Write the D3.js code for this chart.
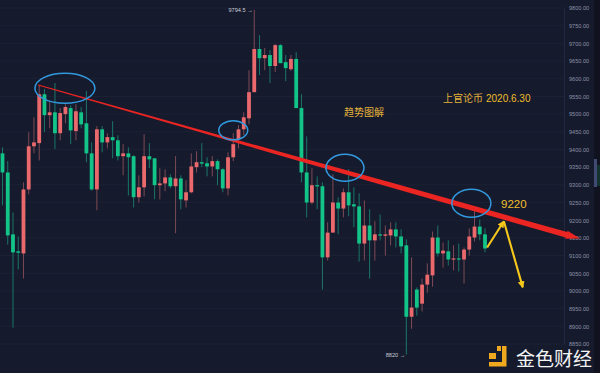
<!DOCTYPE html>
<html><head><meta charset="utf-8">
<script src="https://cdn.jsdelivr.net/npm/d3@7/dist/d3.min.js"></script>
<style>html,body{margin:0;padding:0;background:#161a2d;overflow:hidden}svg{display:block}</style>
</head><body><svg id="c" width="600" height="373"></svg>
<script>
const opens=[9389,9335,9160,9112,9106,9287,9409,9418,9556,9497,9505,9446,9500,9517,9452,9505,9474,9389,9287,9457,9420,9435,9426,9381,9389,9381,9265,9293,9381,9375,9299,9304,9321,9296,9318,9256,9279,9350,9364,9361,9352,9367,9344,9290,9378,9429,9457,9488,9562,9684,9658,9667,9636,9695,9647,9627,9656,9517,9335,9250,9299,9296,9095,9165,9250,9233,9279,9245,9239,9134,9185,9143,9160,9156,9157,9174,9154,9129,8927,9004,8964,9018,9044,9151,9106,9112,9089,9092,9089,9117,9151,9182,9160];
const highs=[9406,9367,9222,9154,9307,9449,9491,9582,9571,9534,9588,9517,9528,9525,9528,9520,9565,9420,9466,9466,9446,9480,9440,9415,9406,9384,9327,9443,9418,9375,9347,9344,9330,9381,9327,9313,9389,9395,9418,9378,9381,9372,9347,9392,9446,9469,9505,9624,9794.5,9723,9687,9681,9698,9698,9667,9667,9675,9556,9437,9347,9324,9307,9194,9330,9265,9290,9344,9293,9276,9256,9231,9197,9216,9185,9194,9194,9174,9146,9095,9010,9035,9078,9168,9185,9137,9143,9129,9134,9123,9177,9228,9202,9177];
const lows=[9242,9131,8896,9061,9035,9273,9389,9369,9449,9460,9401,9426,9474,9415,9426,9460,9364,9284,9228,9392,9403,9375,9369,9327,9270,9236,9250,9267,9347,9259,9259,9282,9290,9163,9231,9236,9276,9335,9350,9324,9324,9299,9279,9270,9367,9403,9440,9471,9562,9610,9624,9588,9619,9644,9593,9622,9517,9307,9208,9245,9231,9004,9086,9165,9160,9208,9211,9180,9083,9086,9035,9086,9143,9100,9129,9123,9106,8820,8893,8930,8942,8995,9012,9097,9066,9072,9058,9055,9021,9100,9140,9143,9109];
const closes=[9335,9157,9109,9108,9287,9409,9420,9556,9497,9505,9446,9503,9520,9454,9508,9471,9389,9287,9457,9420,9435,9426,9381,9389,9378,9265,9293,9381,9372,9299,9304,9321,9296,9318,9259,9279,9352,9364,9360,9352,9367,9344,9290,9378,9415,9457,9491,9562,9684,9658,9667,9636,9695,9644,9630,9656,9517,9335,9250,9299,9296,9095,9165,9250,9233,9279,9242,9239,9134,9185,9143,9160,9157,9160,9174,9154,9126,8927,8953,8953,9018,9046,9151,9106,9114,9089,9092,9089,9117,9154,9182,9160,9120];
const priceTicks=[9800,9750,9700,9650,9600,9550,9500,9450,9400,9350,9300,9250,9200,9150,9100,9050,9000,8950,8900,8850];
const trendIdx=[6.8,110.1];
const trendPrice=[9582,9148];
const circleIdx=[11.9,44,65.3,89.4];
const circlePrice=[9573,9454,9348,9248];
const circleRx=[30,14.5,19,19.5];
const circleRy=[15,9.5,13.5,14];
const arrowIdx=[92.4,95.6,99.2];
const arrowPrice=[9123,9197,9010];

const svg=d3.select("#c");
const x=d3.scaleLinear().domain([0,92]).range([2.5,485]);
const y=d3.scaleLinear().domain([8850,9800]).range([344,8]);
const UP="#e9696c",DOWN="#12c488",UPW="#7d4a55",DOWNW="#1a7667";
const sans="'Liberation Sans',Arial,sans-serif";

svg.append("rect").attr("width",600).attr("height",373).attr("fill","#161a2d");
svg.append("g").selectAll("line").data(priceTicks).join("line")
  .attr("x1",0).attr("x2",564).attr("y1",d=>y(d)).attr("y2",d=>y(d))
  .attr("stroke","#1d2135").attr("stroke-width",1);

const axis=d3.axisRight(y).tickValues(priceTicks).tickFormat(d3.format(".2f")).tickSize(0).tickPadding(5);
const ag=svg.append("g").attr("transform","translate(564,0)").call(axis);
ag.select(".domain").attr("stroke","#232840");
ag.selectAll("text").attr("fill","#8b91a6").attr("font-size","5.6px").attr("font-family",sans);

svg.append("rect").attr("x",594).attr("y",0).attr("width",6).attr("height",373).attr("fill","#10131f");
svg.append("rect").attr("x",594).attr("y",159).attr("width",3).attr("height",28).attr("fill","#414a72");
svg.append("rect").attr("x",597).attr("y",165).attr("width",3).attr("height",21).attr("fill","#14332f");

const idx=d3.range(opens.length);
const g=svg.append("g");
g.selectAll("line.w").data(idx).join("line").attr("class","w")
  .attr("x1",i=>x(i)).attr("x2",i=>x(i)).attr("y1",i=>y(highs[i])).attr("y2",i=>y(lows[i]))
  .attr("stroke",i=>closes[i]>=opens[i]?UPW:DOWNW).attr("stroke-width",1);
g.selectAll("rect.b").data(idx).join("rect").attr("class","b")
  .attr("x",i=>x(i)-1.9).attr("width",3.8)
  .attr("y",i=>y(Math.max(opens[i],closes[i])))
  .attr("height",i=>Math.max(1.2,Math.abs(y(opens[i])-y(closes[i]))))
  .attr("fill",i=>closes[i]>=opens[i]?UP:DOWN);

svg.append("text").attr("x",x(48)-1.5).attr("y",y(9794.5)+2).attr("text-anchor","end")
  .attr("font-size","5.6px").attr("font-family",sans).attr("fill","#c9cdd8").text("9794.5 →");
svg.append("text").attr("x",x(77)-1).attr("y",y(8820)+2).attr("text-anchor","end")
  .attr("font-size","5.6px").attr("font-family",sans).attr("fill","#c9cdd8").text("8820 →");

const x0=x(trendIdx[0]),y0=y(trendPrice[0]),x1=x(trendIdx[1]),y1=y(trendPrice[1]);
const L=Math.hypot(x1-x0,y1-y0),ux=(x1-x0)/L,uy=(y1-y0)/L;
const stops=[[0,.5],[.3,1.2],[.5,2],[.67,2.5],[.975,2.8],[.975,4.2],[1,0]];
const pt=(t,w,s)=>[x0+ux*L*t-uy*w*s,y0+uy*L*t+ux*w*s];
const poly=stops.map(([t,w])=>pt(t,w,1)).concat(stops.slice().reverse().map(([t,w])=>pt(t,w,-1)));
svg.append("path").attr("d",d3.line()(poly)).attr("fill","#ea2522");

svg.append("g").selectAll("ellipse").data(circleIdx).join("ellipse")
  .attr("cx",d=>x(d)).attr("cy",(d,i)=>y(circlePrice[i]))
  .attr("rx",(d,i)=>circleRx[i]).attr("ry",(d,i)=>circleRy[i])
  .attr("fill","none").attr("stroke","#3299de").attr("stroke-width",1.5);

const defs=svg.append("defs");
defs.append("marker").attr("id","ah").attr("viewBox","0 0 8 8").attr("refX",7).attr("refY",4)
  .attr("markerWidth",7).attr("markerHeight",7).attr("markerUnits","userSpaceOnUse").attr("orient","auto")
  .append("path").attr("d","M0,0L8,4L0,8Z").attr("fill","#f6c81c");
for(let k=0;k<2;k++){
  svg.append("line").attr("x1",x(arrowIdx[k])).attr("y1",y(arrowPrice[k]))
    .attr("x2",x(arrowIdx[k+1])).attr("y2",y(arrowPrice[k+1]))
    .attr("stroke","#f6c81c").attr("stroke-width",2.1).attr("marker-end","url(#ah)");
}

const cjk="'Noto Sans CJK SC',sans-serif";
svg.append("text").attr("x",501).attr("y",208).attr("font-size","11.5px").attr("font-family",sans).attr("fill","#f0bf2a").text("9220");
svg.append("text").attr("x",344).attr("y",116).attr("font-size","10px").attr("font-family",cjk).attr("fill","#e3b23a").text("趋势图解");
svg.append("text").attr("x",443).attr("y",102).attr("font-size","10px").attr("font-family",cjk).attr("fill","#e3b23a").text("上官论币");
svg.append("text").attr("x",486).attr("y",102).attr("font-size","10px").attr("font-family",sans).attr("fill","#eebd2b").text("2020.6.30");

const lg=svg.append("g").attr("fill","#f0a81e");
lg.append("rect").attr("x",489).attr("y",353).attr("width",7).attr("height",6);
lg.append("rect").attr("x",497).attr("y",346).attr("width",4).attr("height",5);
lg.append("path").attr("d","M502,346H506.5V366.5H489V362H502Z");
svg.append("text").attr("x",516).attr("y",365.5).attr("font-size","19px").attr("font-family",cjk).attr("fill","#f4f4f4").text("金色财经");
</script></body></html>
